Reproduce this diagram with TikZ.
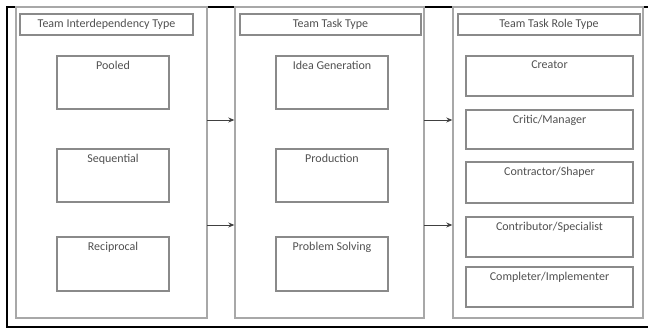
\documentclass[tikz,border=0pt]{standalone}
\usepackage{fontspec}
\setmainfont{Carlito}
\usetikzlibrary{arrows.meta}
\definecolor{panelgray}{HTML}{A8A8A8}
\definecolor{boxgray}{HTML}{8A8A8A}
\definecolor{textgray}{HTML}{505050}

\begin{document}
\begin{tikzpicture}[x=1pt,y=-1pt,
      panel/.style={rectangle,draw=panelgray,line width=1.4pt,
                    minimum width=190pt,minimum height=311pt,inner sep=0pt},
      title/.style={rectangle,draw=boxgray,line width=1.4pt,
                    minimum height=21pt,inner sep=0pt,
                    font=\fontsize{12}{14}\selectfont,text=textgray},
      item/.style={rectangle,draw=boxgray,line width=1.4pt,inner sep=0pt},
      lbl/.style={anchor=north,inner sep=0pt,yshift=-5.5pt,
                  font=\fontsize{12}{14}\selectfont,text=textgray},
      arr/.style={-{Stealth[length=6pt,width=5pt]},line width=0.8pt,draw=black!75}]
    \useasboundingbox (0,0) rectangle (648,329);
    %% -- frame -----------------------------------------------------
    \draw[line width=2pt] (660,7) -- (7,7) -- (7,327) -- (660,327);
    %% -- panels ----------------------------------------------------
    \node[panel,minimum width=191pt] (left)  at (111.5,162.5) {};
    \node[panel,minimum width=189pt] (mid)   at (329.5,162.5) {};
    \node[panel,minimum width=190pt] (right) at (548,162.5)   {};
    %% -- titles ----------------------------------------------------
    \node[title,minimum width=173pt] (lefttitle)  at (106.5,24.5) {Team Interdependency Type};
    \node[title,minimum width=181pt] (midtitle)   at (330.5,24.5) {Team Task Type};
    \node[title,minimum width=182pt] (righttitle) at (549,24.5)   {Team Task Role Type};
    %% -- left column -----------------------------------------------
    \node[item,minimum width=112pt,minimum height=53pt,
          label={[lbl]north:Pooled}]     (pooled) at (113,82.5)  {};
    \node[item,minimum width=112pt,minimum height=53pt,
          label={[lbl]north:Sequential}] (seq)    at (113,175.5) {};
    \node[item,minimum width=112pt,minimum height=54pt,
          label={[lbl]north:Reciprocal}] (recip)  at (113,264)   {};
    %% -- middle column ---------------------------------------------
    \node[item,minimum width=112pt,minimum height=53pt,
          label={[lbl]north:Idea Generation}] (idea)  at (332,82.5)  {};
    \node[item,minimum width=112pt,minimum height=53pt,
          label={[lbl]north:Production}]      (prod)  at (332,175.5) {};
    \node[item,minimum width=112pt,minimum height=54pt,
          label={[lbl]north:Problem Solving}] (solve) at (332,264)   {};
    %% -- right column ----------------------------------------------
    \node[item,minimum width=167pt,minimum height=40pt,
          label={[lbl]north:Creator}]                (creator)  at (549.5,76)    {};
    \node[item,minimum width=167pt,minimum height=39pt,
          label={[lbl]north:Critic/Manager}]         (critic)   at (549.5,129.5) {};
    \node[item,minimum width=167pt,minimum height=41pt,
          label={[lbl]north:Contractor/Shaper}]      (shaper)   at (549.5,182.5) {};
    \node[item,minimum width=167pt,minimum height=40pt,
          label={[lbl]north:Contributor/Specialist}] (special)  at (549.5,237)   {};
    \node[item,minimum width=167pt,minimum height=40pt,
          label={[lbl]north:Completer/Implementer}]  (complete) at (549.5,287)   {};
    %% -- arrows ----------------------------------------------------
    \coordinate (a1) at (207,120);
    \coordinate (a2) at (207,225);
    \coordinate (b1) at (424,120);
    \coordinate (b2) at (424,225);
    \draw[arr] (a1) -- (mid.west |- a1);
    \draw[arr] (a2) -- (mid.west |- a2);
    \draw[arr] (b1) -- (right.west |- b1);
    \draw[arr] (b2) -- (right.west |- b2);
  \end{tikzpicture}
\end{document}
